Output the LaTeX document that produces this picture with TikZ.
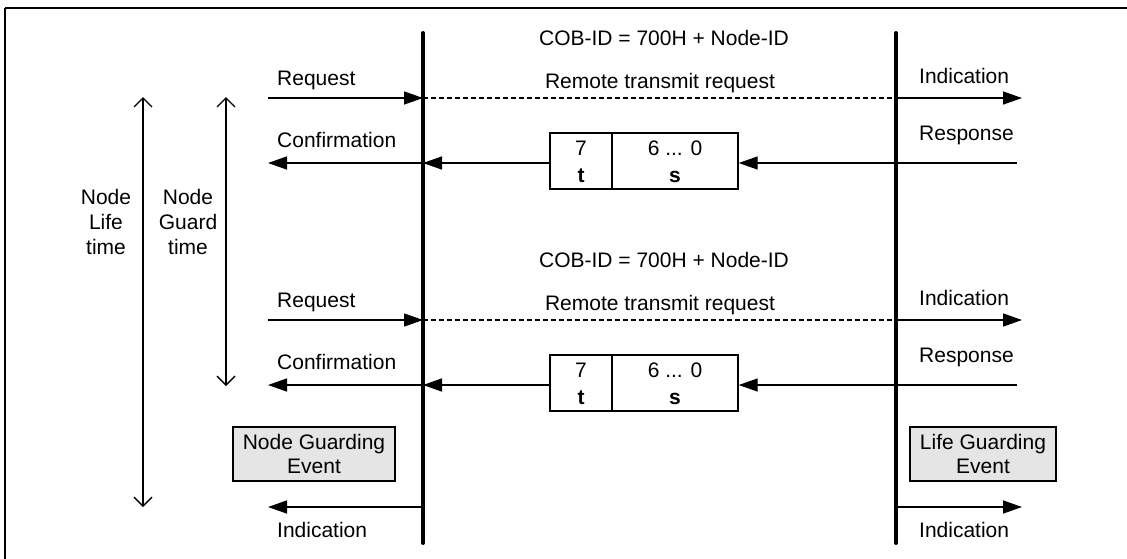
\documentclass[tikz,border=0pt]{standalone}
\usepackage{fontspec}
\setmainfont{Liberation Sans}
\usetikzlibrary{arrows.meta}
\begin{document}
\begin{tikzpicture}[x=1pt,y=-1pt,
  every node/.style={font=\fontsize{21}{25}\selectfont, inner sep=0pt},
  bus/.style={line width=4pt, line cap=round},
  msg/.style={line width=1.4pt, -{Triangle[length=19pt,width=13pt]}},
  rtr/.style={line width=1.4pt, dashed, dash pattern=on 5pt off 3pt},
  span/.style={line width=1.4pt, {Straight Barb[length=9pt,width=18pt,line width=1.4pt]}-{Straight Barb[length=9pt,width=18pt,line width=1.4pt]}},
  frame/.style={draw, line width=1.4pt, minimum width=188pt, minimum height=56pt},
  evbox/.style={draw, line width=1.4pt, fill=black!10, minimum width=162pt, minimum height=54pt, align=center, font=\fontsize{21}{24}\selectfont},
  lbl/.style={anchor=base west},
  ctr/.style={anchor=base}
]
\useasboundingbox (0,0) rectangle (1127,558);
\draw[line width=2.2pt] (5,8) -- (5,570) (5,8) -- (1140,8);

% buses
\coordinate (L1t) at (423,33); \coordinate (L1b) at (423,543);
\coordinate (L2t) at (896,33); \coordinate (L2b) at (896,543);
\draw[bus] (L1t) -- (L1b);
\draw[bus] (L2t) -- (L2b);

% time spans
\coordinate (LTt) at (143,97); \coordinate (LTb) at (143,507);
\coordinate (GTt) at (226,97); \coordinate (GTb) at (226,386);
\draw[span] (LTt) -- (LTb);
\draw[span] (GTt) -- (GTb);
\node[align=center, font=\fontsize{21}{25}\selectfont] (lifet) at (106,222) {Node\\Life\\time};
\node[align=center, font=\fontsize{21}{25}\selectfont] (guardt) at (188,222) {Node\\Guard\\time};

\foreach \i/\dy in {1/0, 2/222} {
  \node[ctr] (cob\i) at (664,45+\dy) {COB-ID = 700H + Node-ID};
  \node[ctr] (rtrl\i) at (660,88+\dy) {Remote transmit request};
  \node[lbl] (req\i) at (277,85+\dy) {Request};
  \node[lbl] (conf\i) at (277,147+\dy) {Confirmation};
  \node[lbl] (ind\i) at (919,83+\dy) {Indication};
  \node[lbl] (resp\i) at (919,140+\dy) {Response};
  \coordinate (rqs\i) at (268,98+\dy);
  \coordinate (rq1\i) at (423,98+\dy);
  \coordinate (rq2\i) at (896,98+\dy);
  \coordinate (rqe\i) at (1022,98+\dy);
  \draw[msg] (rqs\i) -- (rq1\i);
  \draw[rtr] (rq1\i) -- (rq2\i);
  \draw[msg] (rq2\i) -- (rqe\i);
  % frame box
  \node[frame] (box\i) at (644,161+\dy) {};
  \draw[line width=1.4pt] (612,133+\dy) -- (612,189+\dy);
  \node[ctr] (b7\i) at (581,155+\dy) {7};
  \node[ctr] (bt\i) at (581,182+\dy) {\bfseries t};
  \node[ctr] (b6\i) at (675,155+\dy) {6 ... 0};
  \node[ctr] (bs\i) at (675,182+\dy) {\bfseries s};
  \coordinate (rsS\i) at (1017,163+\dy);
  \coordinate (rs2\i) at (896,163+\dy);
  \coordinate (rs1\i) at (423,163+\dy);
  \coordinate (rsE\i) at (268,163+\dy);
  \draw[line width=1.4pt] (rsS\i) -- (rs2\i);
  \draw[msg] (rs2\i) -- (box\i.east |- rs2\i);
  \draw[msg] (box\i.west |- rs1\i) -- (rs1\i);
  \draw[msg] (rs1\i) -- (rsE\i);
}

% events
\node[evbox] (nge) at (314,454) {Node Guarding\\Event};
\node[evbox, minimum width=146pt] (lge) at (983,454) {Life Guarding\\Event};
\coordinate (i1s) at (423,507); \coordinate (i1e) at (268,507);
\coordinate (i2s) at (896,507); \coordinate (i2e) at (1022,507);
\draw[msg] (i1s) -- (i1e);
\draw[msg] (i2s) -- (i2e);
\node[lbl] (indl) at (277,537) {Indication};
\node[lbl] (indr) at (919,537) {Indication};
\end{tikzpicture}
\end{document}
